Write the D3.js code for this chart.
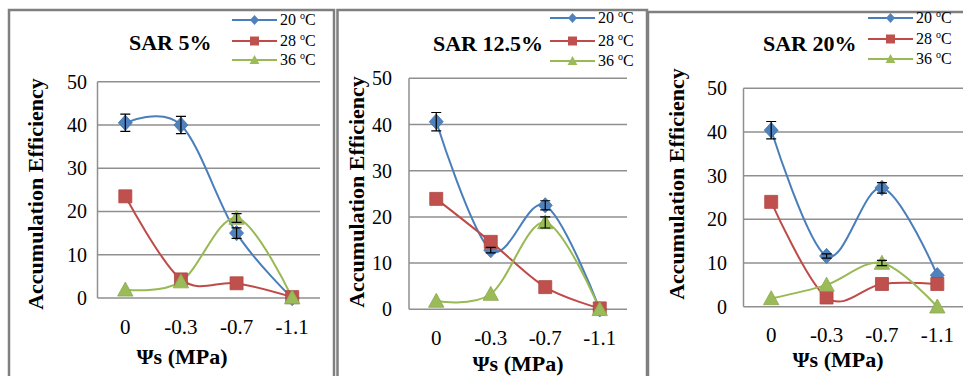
<!DOCTYPE html>
<html>
<head>
<meta charset="utf-8">
<script src="https://cdn.jsdelivr.net/npm/d3@7"></script>
<style>
  body { margin: 0; background: #fff; }
  svg { display: block; }
  svg text { font-family: "Liberation Serif", "Times New Roman", serif; }
</style>
</head>
<body>
<script>
// data
var categories = ["0", "-0.3", "-0.7", "-1.1"];
var seriesNames = ["20", "28", "36"];
var yTicks = [0, 10, 20, 30, 40, 50];
var titles = ["SAR 5%", "SAR 12.5%", "SAR 20%"];

var sar5_t20 = [40.5, 40, 15, 0];
var sar5_t28 = [23.5, 4.3, 3.4, 0.2];
var sar5_t36 = [1.9, 3.8, 18.5, 0.1];
var sar5_t20_err = [2, 2, 1.2, 0];
var sar5_t36_err = [0, 0, 1, 0];

var sar12_t20 = [40.6, 12.8, 22.5, 0];
var sar12_t28 = [23.9, 14.6, 4.8, 0.2];
var sar12_t36 = [1.8, 3.3, 18.8, 0];
var sar12_t20_err = [2, 0.6, 1, 0];
var sar12_t36_err = [0, 0, 1.2, 0];

var sar20_t20 = [40.4, 11.6, 27.2, 7.2];
var sar20_t28 = [24, 2.1, 5.2, 5.2];
var sar20_t36 = [1.9, 5, 10, 0];
var sar20_t20_err = [2, 0.5, 1.2, 0];
var sar20_t36_err = [0, 0, 0.6, 0];

var colors = ["#4a7ebb", "#be4b48", "#98b954"];
var markerFill = ["#4f81bd", "#c0504d", "#9bbb59"];

// layout of each panel (pixel positions)
var panels = [
  { title: titles[0], series: [sar5_t20, sar5_t28, sar5_t36], errs: [sar5_t20_err, null, sar5_t36_err],
    frame: [9, 10, 334], left: 97.5, right: 320, y0: 298, y50: 81.7,
    titleX: 129, titleY: 50, yTitleX: 43, yTitleY: 194, xTitleX: 182, xTitleY: 364, xLabY: 334, yLabX: 87,
    legX: 232, legY: [20, 41, 60] },
  { title: titles[1], series: [sar12_t20, sar12_t28, sar12_t36], errs: [sar12_t20_err, null, sar12_t36_err],
    frame: [337.5, 10, 647], left: 409, right: 627, y0: 309.3, y50: 78.3,
    titleX: 433, titleY: 51, yTitleX: 364, yTitleY: 192, xTitleX: 518, xTitleY: 371, xLabY: 345, yLabX: 392,
    legX: 550, legY: [18, 41, 61] },
  { title: titles[2], series: [sar20_t20, sar20_t28, sar20_t36], errs: [sar20_t20_err, null, sar20_t36_err],
    frame: [648, 12, 1000], left: 743.5, right: 965, y0: 306.7, y50: 88.3,
    titleX: 763, titleY: 51, yTitleX: 684, yTitleY: 184, xTitleX: 838, xTitleY: 367, xLabY: 342, yLabX: 727,
    legX: 868, legY: [18, 39, 59] }
];

var svg = d3.select("body").append("svg")
    .attr("width", 963)
    .attr("height", 376);

function marker(k, s) {
  // k: 0 diamond, 1 square, 2 triangle
  if (k === 0) return "M0," + (-s * 0.55) + "L" + (s * 0.5) + ",0L0," + (s * 0.55) + "L" + (-s * 0.5) + ",0Z";
  if (k === 1) return "M" + (-s / 2) + "," + (-s / 2) + "h" + s + "v" + s + "h" + (-s) + "Z";
  return "M0," + (-s * 0.55) + "L" + (s * 0.55) + "," + (s * 0.45) + "L" + (-s * 0.55) + "," + (s * 0.45) + "Z";
}

panels.forEach(function(p) {
  var g = svg.append("g");

  // outer frame
  g.append("path")
    .attr("d", "M" + p.frame[0] + ",380V" + p.frame[1] + "H" + p.frame[2] + "V380")
    .attr("fill", "none")
    .attr("stroke", "#7f7f7f")
    .attr("stroke-width", 2.5);

  var x = d3.scaleBand().domain(categories).range([p.left, p.right]);
  var y = d3.scaleLinear().domain([0, 50]).range([p.y0, p.y50]);
  var cx = function(i) { return x(categories[i]) + x.bandwidth() / 2; };

  // gridlines
  g.selectAll(".grid").data(yTicks).enter().append("line")
    .attr("x1", p.left).attr("x2", p.right)
    .attr("y1", function(d) { return y(d); })
    .attr("y2", function(d) { return y(d); })
    .attr("stroke", "#8f8f8f")
    .attr("stroke-width", 1.5);

  g.append("line")
    .attr("x1", p.left).attr("x2", p.left)
    .attr("y1", y(0)).attr("y2", y(50))
    .attr("stroke", "#8f8f8f")
    .attr("stroke-width", 1.5);

  // y tick labels
  g.selectAll(".ylab").data(yTicks).enter().append("text")
    .attr("x", p.yLabX)
    .attr("y", function(d) { return y(d); })
    .attr("dy", "0.35em")
    .attr("text-anchor", "end")
    .attr("font-size", 20)
    .text(function(d) { return d; });

  // x tick labels
  g.selectAll(".xlab").data(categories).enter().append("text")
    .attr("x", function(d) { return x(d) + x.bandwidth() / 2; })
    .attr("y", p.xLabY)
    .attr("text-anchor", "middle")
    .attr("font-size", 21)
    .text(function(d) { return d; });

  // titles
  g.append("text")
    .attr("x", p.titleX).attr("y", p.titleY)
    .attr("font-weight", "bold")
    .attr("font-size", 22)
    .text(p.title);

  g.append("text")
    .attr("transform", "translate(" + p.yTitleX + "," + p.yTitleY + ") rotate(-90)")
    .attr("text-anchor", "middle")
    .attr("font-weight", "bold")
    .attr("font-size", 22)
    .text("Accumulation Efficiency");

  g.append("text")
    .attr("x", p.xTitleX).attr("y", p.xTitleY)
    .attr("text-anchor", "middle")
    .attr("font-weight", "bold")
    .attr("font-size", 22)
    .text("Ψs (MPa)");

  // series lines
  var line = d3.line()
    .x(function(d, i) { return cx(i); })
    .y(function(d) { return y(d); })
    .curve(d3.curveCardinal.tension(0));

  p.series.forEach(function(vals, k) {
    g.append("path")
      .attr("d", line(vals))
      .attr("fill", "none")
      .attr("stroke", colors[k])
      .attr("stroke-width", 2);
  });

  // markers
  p.series.forEach(function(vals, k) {
    g.selectAll(".m" + k).data(vals).enter().append("path")
      .attr("transform", function(d, i) { return "translate(" + cx(i) + "," + y(d) + ")"; })
      .attr("d", marker(k, k === 1 ? 13 : 14))
      .attr("fill", markerFill[k])
      .attr("stroke", d3.color(markerFill[k]).darker(0.3))
      .attr("stroke-width", 0.8);
  });

  // error bars
  p.errs.forEach(function(errs, k) {
    if (!errs) return;
    var vals = p.series[k];
    errs.forEach(function(e, i) {
      if (!e) return;
      var xx = cx(i), top = y(vals[i] + e), bot = y(vals[i] - e);
      g.append("path")
        .attr("d", "M" + xx + "," + top + "V" + bot +
                   "M" + (xx - 5) + "," + top + "H" + (xx + 5) +
                   "M" + (xx - 5) + "," + bot + "H" + (xx + 5))
        .attr("fill", "none")
        .attr("stroke", "#000")
        .attr("stroke-width", 1.2);
    });
  });

  // legend
  seriesNames.forEach(function(name, k) {
    var ly = p.legY[k];
    g.append("line")
      .attr("x1", p.legX).attr("x2", p.legX + 45)
      .attr("y1", ly).attr("y2", ly)
      .attr("stroke", colors[k])
      .attr("stroke-width", 2);
    g.append("path")
      .attr("transform", "translate(" + (p.legX + 22.5) + "," + ly + ")")
      .attr("d", marker(k, 9))
      .attr("fill", markerFill[k]);
    var t = g.append("text")
      .attr("x", p.legX + 48).attr("y", ly + 5)
      .attr("font-size", 16);
    t.append("tspan").text(name + " ");
    t.append("tspan").attr("font-size", 10).attr("dy", -6.5).text("o");
    t.append("tspan").attr("dy", 6.5).attr("font-size", 16).text("C");
  });
});
</script>
</body>
</html>
